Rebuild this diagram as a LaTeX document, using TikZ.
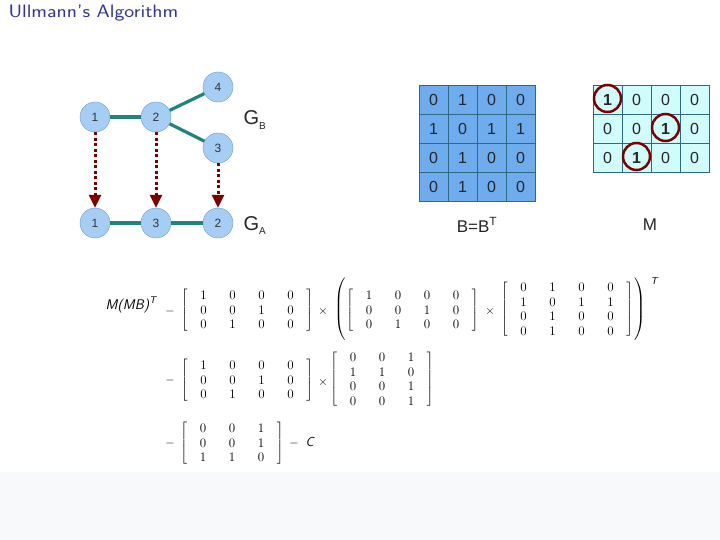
\documentclass[tikz,border=0pt]{standalone}
\usepackage{amsmath,amssymb}
\usepackage{fontspec}
\newfontfamily\arial{Liberation Sans}
\usepackage{xcolor}
\usepackage{tikz}
\usetikzlibrary{arrows.meta,positioning,matrix}
\definecolor{azulno}{RGB}{166,206,245}
\definecolor{azulborda}{RGB}{110,155,205}
\definecolor{verdeazulado}{RGB}{32,132,124}
\definecolor{vermelhoescuro}{RGB}{125,0,0}
\definecolor{azulgrade}{RGB}{110,172,238}
\definecolor{cianoclaro}{RGB}{208,252,252}
\definecolor{linhagrade}{RGB}{45,105,130}
\definecolor{azultitulo}{RGB}{51,51,160}
\definecolor{cinzafaixa}{RGB}{248,249,251}
\tikzset{
  vertice/.style={circle,draw=azulborda,fill=azulno,minimum size=30pt,
    inner sep=0pt,font=\arial\fontsize{12}{12}\selectfont,text=black!80},
  aresta/.style={line width=3.2pt,verdeazulado},
  seta/.style={-{Triangle[width=12pt,length=13pt]},line width=3pt,
    vermelhoescuro,dash pattern=on 3pt off 2.5pt},
  celulab/.style={rectangle,draw=linhagrade,fill=azulgrade,minimum size=29pt,
    inner sep=0pt,font=\arial\fontsize{16}{16}\selectfont,text=black!85},
  celulam/.style={celulab,fill=cianoclaro},
  circulo/.style={circle,draw=vermelhoescuro,line width=2.5pt,minimum size=27pt,
    inner sep=0pt},
  matriz/.style={matrix of nodes,inner sep=0pt,
    left delimiter={[},right delimiter={]},
    nodes={minimum width=29pt,minimum height=14.5pt,inner sep=0pt,
      text height=8.5pt,text depth=0pt,font=\rmfamily\fontsize{13}{15}\selectfont}}
}
\begin{document}
\begin{tikzpicture}[x=1pt,y=-1pt,
  sinal/.style={font=\fontsize{13}{13}\selectfont},
  rotulo/.style={font=\arial\fontsize{17}{17}\selectfont,text=black!85}]
\useasboundingbox (0,0) rectangle (720,540);
\fill[cinzafaixa] (0,472) rectangle (720,540);
\node[anchor=west,text=azultitulo,font=\sffamily\fontsize{18}{18}\selectfont] (titulo) at (5,13) {\scalebox{1.17}[1]{Ullmann's Algorithm}};
\node[vertice] (b1) at (95,117) {1};
\node[vertice] (b2) at (156,117) {2};
\node[vertice] (b4) at (218,87) {4};
\node[vertice] (b3) at (218,148) {3};
\node[vertice] (a1) at (95,223) {1};
\node[vertice] (a3) at (156,223) {3};
\node[vertice] (a2) at (218,223) {2};
\draw[aresta] (b1) -- (b2);
\draw[aresta] (b2) -- (b4);
\draw[aresta] (b2) -- (b3);
\draw[aresta] (a1) -- (a3);
\draw[aresta] (a3) -- (a2);
\draw[seta] (b1) -- (a1);
\draw[seta] (b2) -- (a3);
\draw[seta] (b3) -- (a2);
\node[rotulo,anchor=base west] (gb) at (240,125) {{\fontsize{20}{20}\selectfont G}\raisebox{-5pt}{\fontsize{10}{10}\selectfont B}};
\node[rotulo,anchor=base west] (ga) at (240,230) {{\fontsize{20}{20}\selectfont G}\raisebox{-5pt}{\fontsize{10}{10}\selectfont A}};
\foreach \lin/\vals in {0/{0,1,0,0},1/{1,0,1,1},2/{0,1,0,0},3/{0,1,0,0}}
  \foreach \v [count=\col from 0] in \vals
    \node[celulab] (b-\lin-\col) at (433.5+29*\col,99.5+29.2*\lin) {\v};
\foreach \lin/\vals in {0/{{\bfseries 1},0,0,0},1/{0,0,{\bfseries 1},0},2/{0,{\bfseries 1},0,0}}
  \foreach \v [count=\col from 0] in \vals
    \node[celulam] (m-\lin-\col) at (607.5+29*\col,99.5+29*\lin) {\v};
\foreach \cel in {m-0-0,m-1-2,m-2-1}
  \node[circulo] at ([yshift=1pt]\cel) {};
\node[rotulo] (rotb) at (477,225) {B=B\textsuperscript{T}};
\node[rotulo] (rotm) at (650,225) {M};
\node[anchor=base east,font=\sffamily\itshape\fontsize{14}{14}\selectfont] (mmb) at (160,309) {M(MB)\textsuperscript{T}};
\node[sinal] (igual1) at (170,311) {$-$};
\matrix[matriz] (m1) at (247,310) {1&0&0&0\\0&0&1&0\\0&1&0&0\\};
\node[sinal] (vezes1) at (323,311) {$\times$};
\node[sinal] (abre) at (341,310) {$\left(\vrule height 30pt depth 30pt width 0pt\right.$};
\matrix[matriz] (m2) at (412.5,310) {1&0&0&0\\0&0&1&0\\0&1&0&0\\};
\node[sinal] (vezes2) at (490,311) {$\times$};
\matrix[matriz] (m3) at (567,309) {0&1&0&0\\1&0&1&1\\0&1&0&0\\0&1&0&0\\};
\node[sinal] (fecha) at (640,310) {$\left.\vrule height 30pt depth 30pt width 0pt\right)$};
\node[font=\sffamily\itshape\fontsize{10}{10}\selectfont] (transp) at (654,281) {T};
\node[sinal] (igual2) at (170,380) {$-$};
\matrix[matriz] (m4) at (247,380) {1&0&0&0\\0&0&1&0\\0&1&0&0\\};
\node[sinal] (vezes3) at (323,382) {$\times$};
\matrix[matriz] (m5) at (382,379) {0&0&1\\1&1&0\\0&0&1\\0&0&1\\};
\node[sinal] (igual3) at (170,443) {$-$};
\matrix[matriz] (m6) at (232,443) {0&0&1\\0&0&1\\1&1&0\\};
\node[sinal] (igual4) at (294,443) {$-$};
\node[anchor=west,font=\sffamily\itshape\fontsize{13}{13}\selectfont] (c) at (302,442) {C};
\end{tikzpicture}
\end{document}
